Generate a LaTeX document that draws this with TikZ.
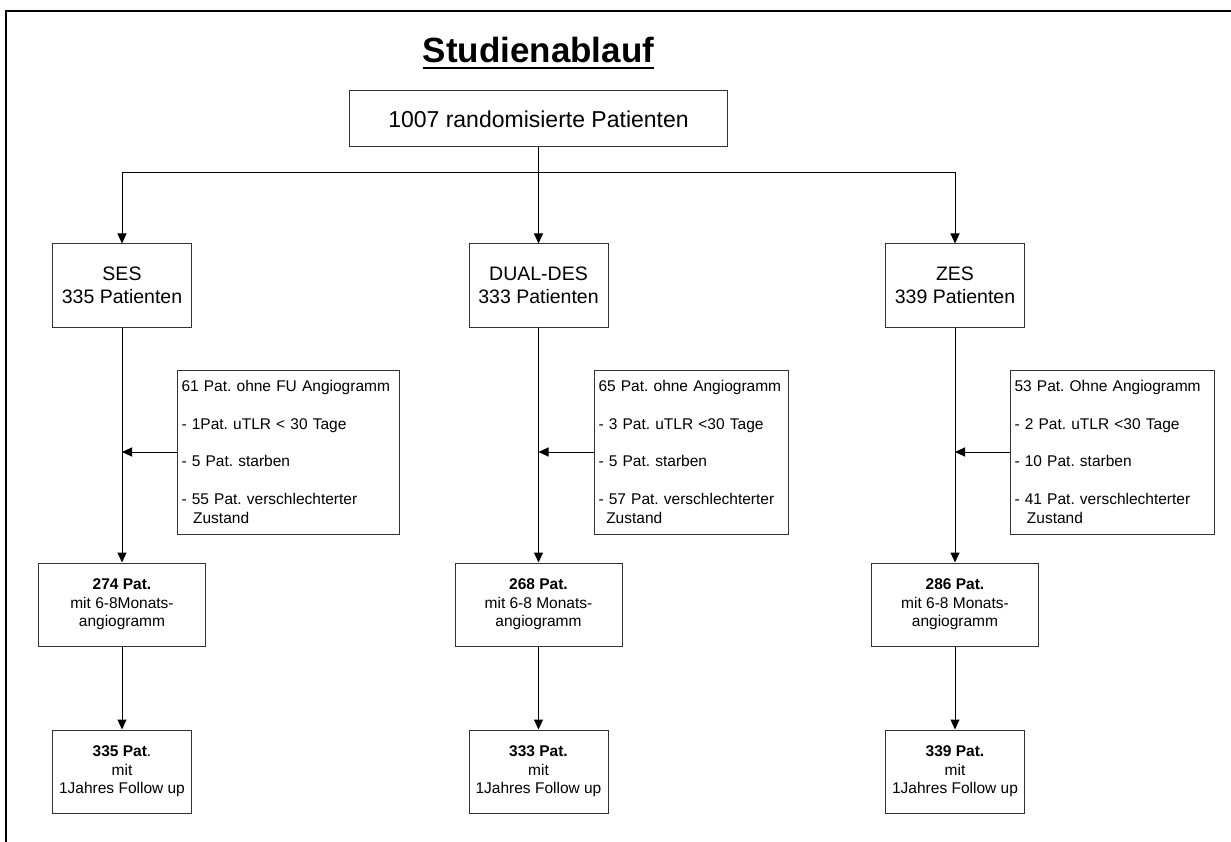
\documentclass[tikz,border=0pt]{standalone}
\usepackage{fontspec}
\setmainfont{Liberation Sans}
\usetikzlibrary{arrows.meta}
\tikzset{
  every node/.append style={execute at begin node={\frenchspacing\hyphenpenalty=10000\exhyphenpenalty=10000}},
  box/.style={draw=black!80, line width=1pt, rectangle, inner sep=0pt, align=center},
  dropbox/.style={draw=black!80, line width=1pt, rectangle, inner xsep=4.5pt, inner ysep=0pt, align=left},
  arr/.style={draw=black, line width=1pt, -{Triangle[length=10pt,width=9pt]}},
  conn/.style={draw=black, line width=1pt},
  frameline/.style={draw=black, line width=2.6pt}
}
\begin{document}
\begin{tikzpicture}[x=1pt,y=-1pt]
\useasboundingbox (0,0) rectangle (1231,842);
\fill[white] (0,0) rectangle (1231,842);
% frame
\coordinate (fTL) at (6,11);
\coordinate (fTR) at (1231,11);
\coordinate (fBL) at (6,842);
\draw[frameline] (fTR) -- (fTL) -- (fBL);
% title
\node[inner sep=0pt, anchor=base, font=\fontsize{35}{40}\selectfont\bfseries] (title) at (538.5,63) {Studienablauf};
\draw[line width=2pt] ([yshift=-5.5pt]title.base west) -- ([yshift=-5.5pt]title.base east);
% top box
\node[box, minimum width=378pt, minimum height=56pt, font=\fontsize{23}{27}\selectfont] (top) at (538.5,119) {1007 randomisierte Patienten};
% row 2
\tikzset{r2/.style={box, minimum width=139pt, minimum height=83pt, font=\fontsize{19.5}{23}\selectfont}}
\node[r2] (ses) at (122,285.5) {SES\\335 Patienten};
\node[r2] (dual) at (538.5,285.5) {DUAL-DES\\333 Patienten};
\node[r2] (zes) at (955,285.5) {ZES\\339 Patienten};
% drop boxes
\tikzset{dtext/.style={font=\fontsize{15.5}{18.8}\selectfont, minimum height=164pt}}
\node[dropbox, dtext, text width=213pt] (d1) at (288,452) {61 Pat. ohne FU Angiogramm\\[18.8pt]- 1Pat. uTLR < 30 Tage\\[18.8pt]- 5 Pat. starben\\[18.8pt]- 55 Pat. verschlechterter\\\hspace*{0.75em}Zustand};
\node[dropbox, dtext, text width=185pt] (d2) at (691,452) {65 Pat. ohne Angiogramm\\[18.8pt]- 3 Pat. uTLR <30 Tage\\[18.8pt]- 5 Pat. starben\\[18.8pt]- 57 Pat. verschlechterter\\\hspace*{0.5em}Zustand};
\node[dropbox, dtext, text width=195pt] (d3) at (1112,452) {53 Pat. Ohne Angiogramm\\[18.8pt]- 2 Pat. uTLR <30 Tage\\[18.8pt]- 10 Pat. starben\\[18.8pt]- 41 Pat. verschlechterter\\\hspace*{0.8em}Zustand};
% mid boxes
\tikzset{mid/.style={box, minimum width=167pt, minimum height=83pt, font=\fontsize{15.5}{18.5}\selectfont}}
\node[mid] (m1) at (122,604.5) {\textbf{274 Pat.}\\mit 6-8Monats-\\angiogramm};
\node[mid] (m2) at (538.5,604.5) {\textbf{268 Pat.}\\mit 6-8 Monats-\\angiogramm};
\node[mid] (m3) at (955,604.5) {\textbf{286 Pat.}\\mit 6-8 Monats-\\angiogramm};
% bottom boxes
\tikzset{bot/.style={box, minimum width=139pt, minimum height=83pt, font=\fontsize{15.5}{18.5}\selectfont}}
\node[bot] (b1) at (122,771.5) {\textbf{335 Pat}.\\mit\\1Jahres Follow up};
\node[bot] (b2) at (538.5,771.5) {\textbf{333 Pat.}\\mit\\1Jahres Follow up};
\node[bot] (b3) at (955,771.5) {\textbf{339 Pat.}\\mit\\1Jahres Follow up};
% connectors
\coordinate (split) at (538.5,173);
\draw[arr] (top.south) -- (dual.north);
\draw[arr] (split) -| (ses.north);
\draw[arr] (split) -| (zes.north);
\draw[arr] (ses.south) -- (m1.north);
\draw[arr] (dual.south) -- (m2.north);
\draw[arr] (zes.south) -- (m3.north);
\draw[arr] (d1.west) -- (d1.west -| ses.south);
\draw[arr] (d2.west) -- (d2.west -| dual.south);
\draw[arr] (d3.west) -- (d3.west -| zes.south);
\draw[arr] (m1.south) -- (b1.north);
\draw[arr] (m2.south) -- (b2.north);
\draw[arr] (m3.south) -- (b3.north);
\end{tikzpicture}
\end{document}
